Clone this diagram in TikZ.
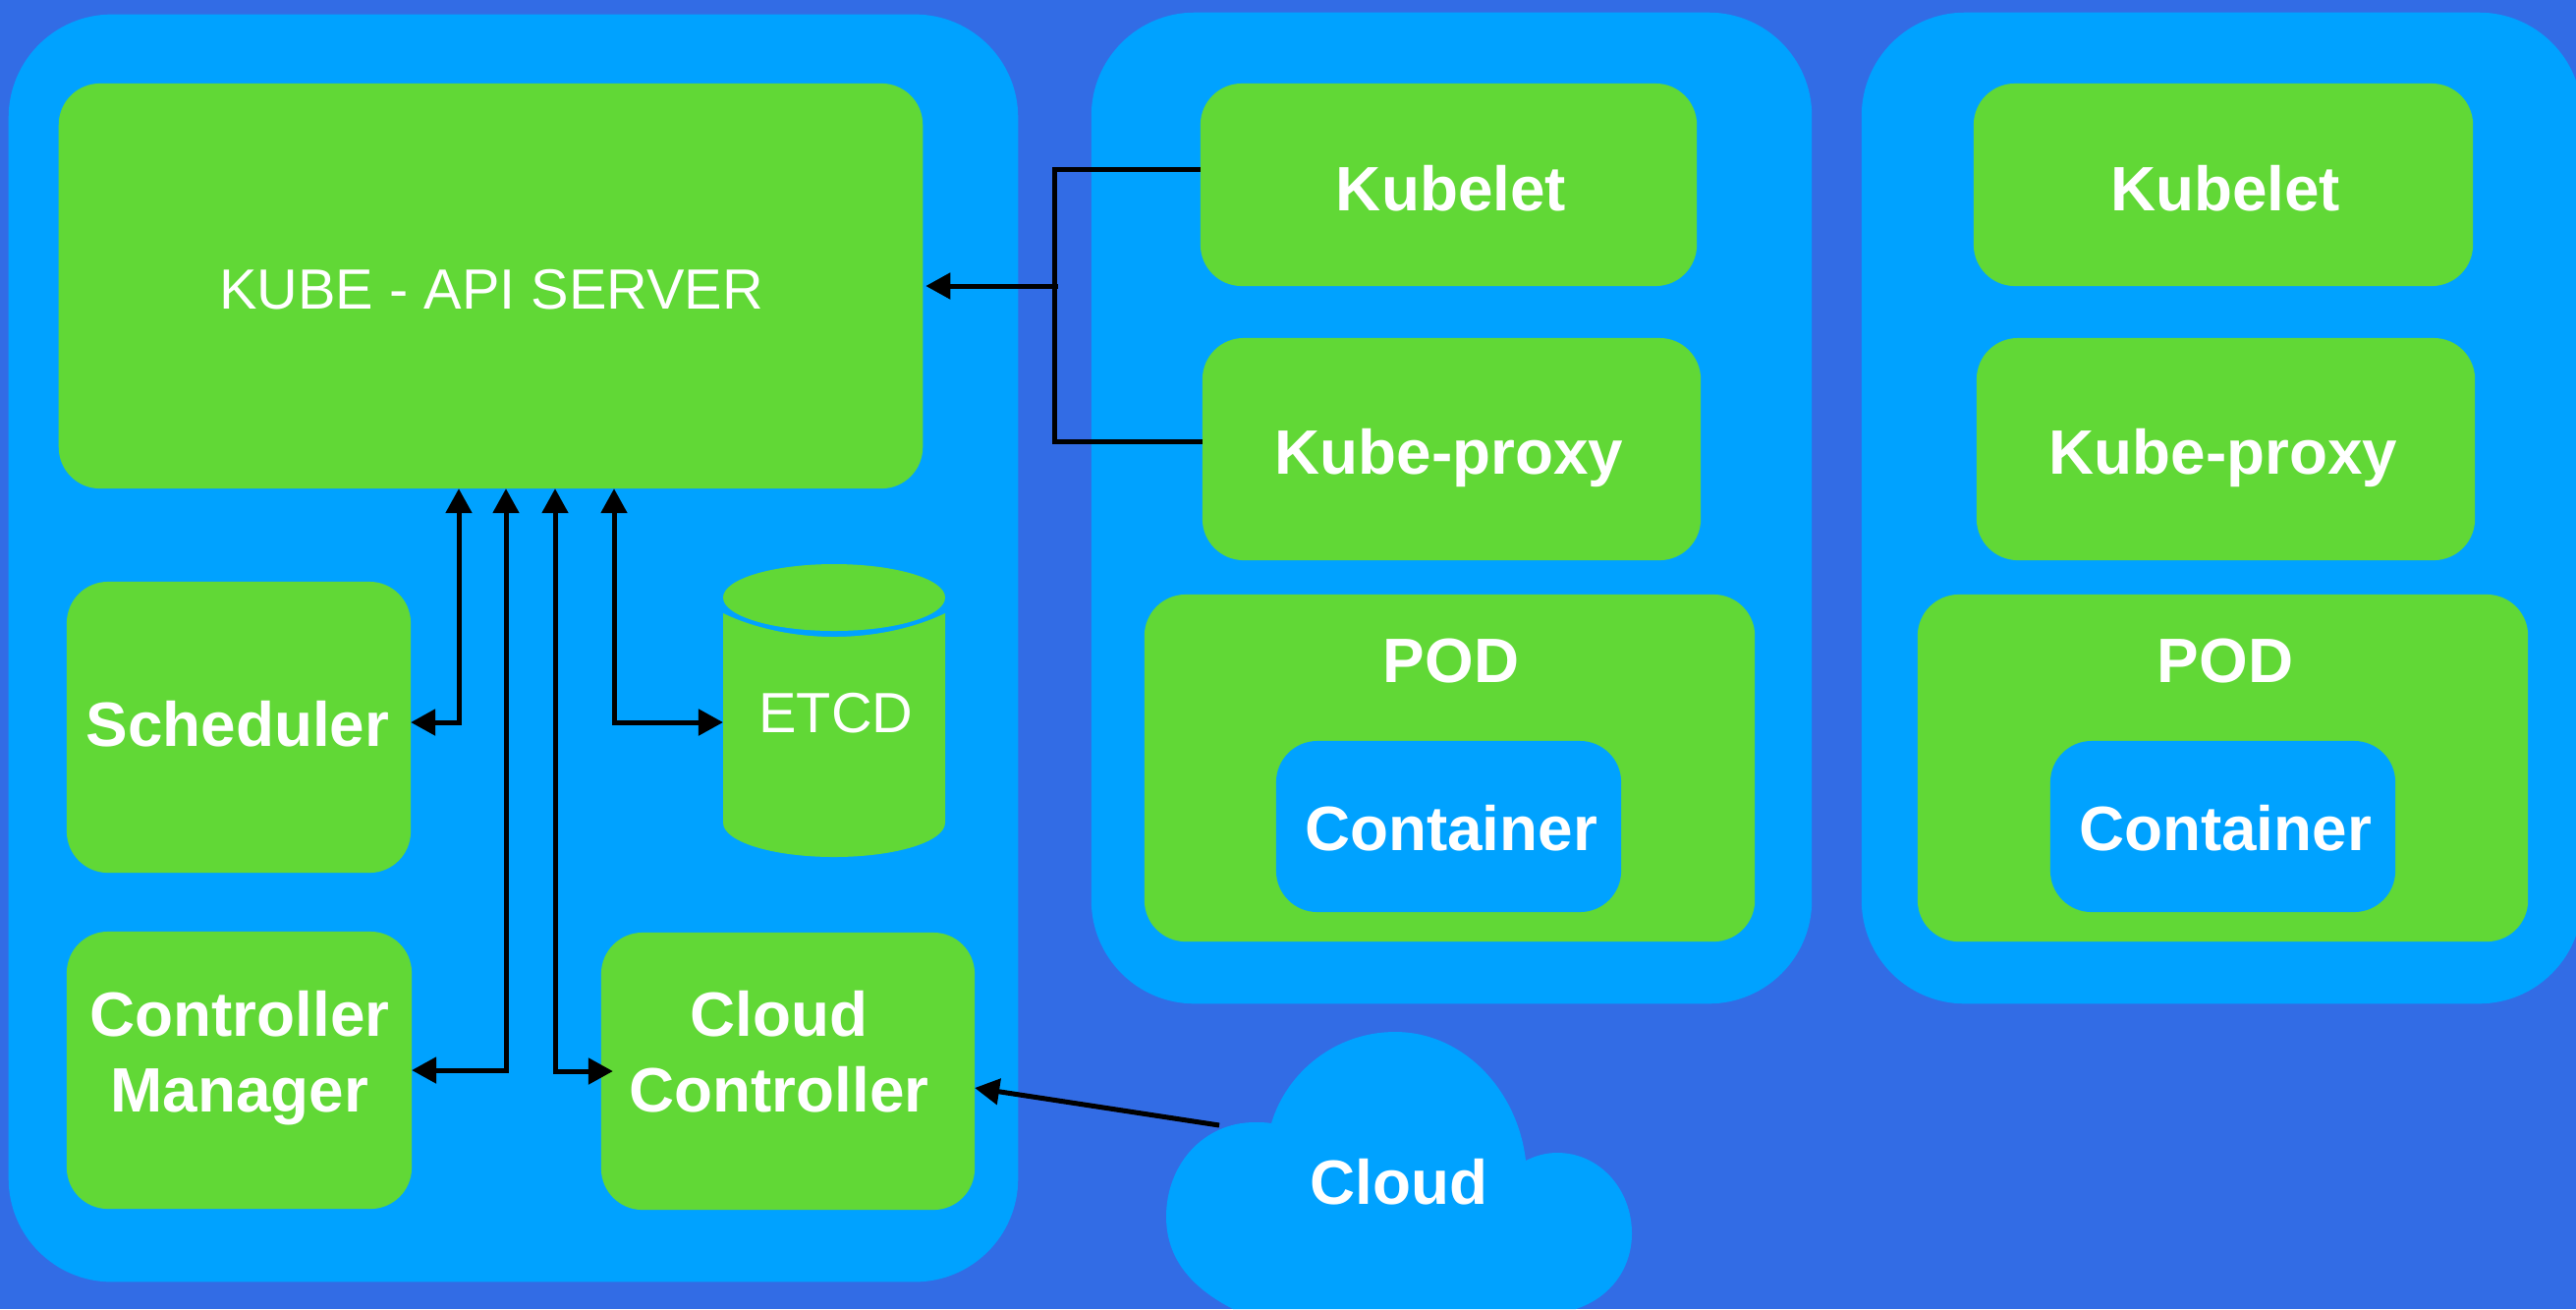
\documentclass[tikz,border=0pt]{standalone}
\usepackage{fontspec}
\setmainfont{Liberation Sans}
\usetikzlibrary{arrows.meta}
\definecolor{bgblue}{HTML}{326CE5}
\definecolor{panelblue}{HTML}{00A2FF}
\definecolor{boxgreen}{HTML}{61D836}
\begin{document}
\begin{tikzpicture}[x=.01cm,y=-.01cm,>={Triangle[length=.25cm,width=.26cm]}]

% node style definition
\tikzstyle{panel} = [
	fill=panelblue, rectangle, rounded corners=1.05cm,
	inner sep=0pt, outer sep=0pt ];
\tikzstyle{block} = [
	fill=boxgreen, rectangle, rounded corners=.42cm,
	inner sep=0pt, outer sep=0pt ];
\tikzstyle{innerblock} = [block,fill=panelblue];
\tikzstyle{boldtext} = [
	text=white, anchor=base, align=center, inner sep=0pt,
	font=\fontsize{18.15}{21.9}\selectfont\bfseries ];
\tikzstyle{thintext} = [boldtext,font=\fontsize{16.4}{20}\selectfont];
\tikzstyle{link} = [line width=.05cm];

\useasboundingbox (0,0) rectangle (2622,1332);
\clip (0,0) rectangle (2622,1332);
\fill[bgblue] (0,0) rectangle (2622,1332);

% the three machines
\node[panel,minimum width=10.27cm,minimum height=12.89cm] (master) at (522.5,659.5) {};
\node[panel,minimum width=7.33cm,minimum height=10.08cm] (worker1) at (1477.5,517) {};
\node[panel,minimum width=7.33cm,minimum height=10.08cm] (worker2) at (2261.5,517) {};

% master
\node[block,minimum width=8.79cm,minimum height=4.12cm] (api) at (499.5,291) {};
\node[thintext] (apitext) at (500,314) {KUBE - API SERVER};
\node[block,minimum width=3.5cm,minimum height=2.96cm] (sched) at (243,740) {};
\node[boldtext] (schedtext) at (242,759) {Scheduler};
\node[block,minimum width=3.51cm,minimum height=2.82cm] (cm) at (243.5,1089) {};
\node[boldtext] (cmtext) at (244,1131) {Controller\\Manager};
\node[block,minimum width=3.8cm,minimum height=2.82cm] (cc) at (802,1090) {};
\node[boldtext] (cctext) at (793,1131) {Cloud\\Controller};

% etcd
\fill[boxgreen] (736,624) .. controls (765,638) and (805,648) .. (849,648)
	.. controls (893,648) and (933,638) .. (962,624) -- (962,837)
	.. controls (962,857) and (910,872) .. (849,872)
	.. controls (788,872) and (736,857) .. (736,837) -- cycle;
\fill[boxgreen] (849,608) ellipse (113 and 34);
\node[thintext] (etcd) at (851,745) {ETCD};

% first worker
\node[block,minimum width=5.05cm,minimum height=2.06cm] (kubelet1) at (1474.5,188) {};
\node[boldtext] (kubelet1text) at (1477,214) {Kubelet};
\node[block,minimum width=5.07cm,minimum height=2.26cm] (proxy1) at (1477.5,457) {};
\node[boldtext] (proxy1text) at (1475,482) {Kube-proxy};
\node[block,minimum width=6.21cm,minimum height=3.53cm] (pod1) at (1475.5,781.5) {};
\node[boldtext] (pod1text) at (1477,694) {POD};
\node[innerblock,minimum width=3.51cm,minimum height=1.74cm] (cont1) at (1474.5,841) {};
\node[boldtext] (cont1text) at (1477,865) {Container};

% second worker
\node[block,minimum width=5.08cm,minimum height=2.06cm] (kubelet2) at (2263,188) {};
\node[boldtext] (kubelet2text) at (2265,214) {Kubelet};
\node[block,minimum width=5.07cm,minimum height=2.26cm] (proxy2) at (2265.5,457) {};
\node[boldtext] (proxy2text) at (2263,482) {Kube-proxy};
\node[block,minimum width=6.21cm,minimum height=3.53cm] (pod2) at (2262.5,781.5) {};
\node[boldtext] (pod2text) at (2265,694) {POD};
\node[innerblock,minimum width=3.51cm,minimum height=1.74cm] (cont2) at (2262.5,841) {};
\node[boldtext] (cont2text) at (2265,865) {Container};

% cloud
\fill[panelblue] (1255,1332) .. controls (1212,1310) and (1187,1280) .. (1187,1238)
	.. controls (1187,1185) and (1225,1142) .. (1277,1142)
	.. controls (1283,1142) and (1288,1142) .. (1294,1143)
	.. controls (1310,1090) and (1360,1050) .. (1420,1050)
	.. controls (1490,1050) and (1545,1110) .. (1553,1181)
	.. controls (1563,1176) and (1573,1173) .. (1585,1173)
	.. controls (1628,1173) and (1661,1210) .. (1661,1255)
	.. controls (1661,1290) and (1640,1320) .. (1604,1332) -- cycle;
\node[boldtext] (cloud) at (1424,1225) {Cloud};

% bend points of the connectors
\coordinate (schedbend) at (467,735);
\coordinate (cmbend) at (515,1089);
\coordinate (ccbend) at (565,1090);
\coordinate (etcdbend) at (625,735);
\coordinate (etcdin) at (736,735);
\coordinate (trunktop) at (1073,172);
\coordinate (trunkbot) at (1073,449);
\coordinate (trunkmid) at (1077,291);
\coordinate (cloudout) at (1241,1145);

\draw[link,<->] (sched.east |- schedbend) -- (schedbend) -- (api.south -| schedbend);
\draw[link,<->] (cm.east |- cmbend) -- (cmbend) -- (api.south -| cmbend);
\draw[link,<->,shorten >=-.12cm] (api.south -| ccbend) -- (ccbend) -- (cc.west |- ccbend);
\draw[link,<->] (api.south -| etcdbend) -- (etcdbend) -- (etcdin);

\draw[link] (kubelet1.west |- trunktop) -- (trunktop) -- (trunkbot) -- (proxy1.west |- trunkbot);
\draw[link,->,shorten >=.03cm] (trunkmid) -- (api.east);
\draw[link,->] (cloudout) -- (cc.east |- 0,1107);

\end{tikzpicture}
\end{document}
